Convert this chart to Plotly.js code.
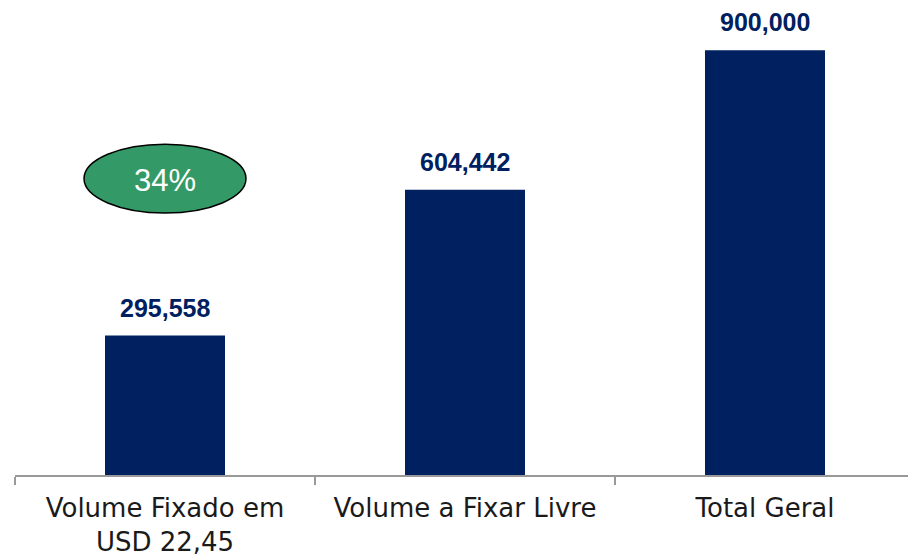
<!DOCTYPE html>
<html>
<head>
<meta charset="utf-8">
<script src="https://cdn.plot.ly/plotly-3.0.1.min.js"></script>
<style>html,body{margin:0;padding:0;background:#fff;}#chart{width:908px;height:556px;}</style>
</head>
<body>
<div id="chart"></div>
<script>
const categories = ["Volume Fixado em<br>USD 22,45", "Volume a Fixar Livre", "Total Geral"];
const values = [295558, 604442, 900000];
const valueLabels = ["295,558", "604,442", "900,000"];
const badgeText = "34%";
const badgeCategory = 0;
const badgeValue = 628000;

const barColor = "#002060";

const trace = {
  type: "bar",
  x: categories,
  y: values,
  marker: { color: barColor },
  hoverinfo: "none"
};

const annotations = values.map((v, i) => ({
  x: categories[i], y: v, xref: "x", yref: "y",
  text: valueLabels[i],
  showarrow: false,
  yanchor: "bottom",
  yshift: 12,
  font: { family: "Liberation Sans, Arial, sans-serif", size: 25, color: barColor, weight: "bold" }
}));
annotations.push({
  x: categories[badgeCategory], y: badgeValue, xref: "x", yref: "y",
  text: badgeText, showarrow: false, yshift: -2,
  font: { family: "Liberation Sans, Arial, sans-serif", size: 31, color: "#ffffff" }
});

const layout = {
  width: 908, height: 556,
  margin: { l: 15, r: 0, t: 3, b: 81 },
  paper_bgcolor: "#ffffff", plot_bgcolor: "#ffffff",
  showlegend: false,
  bargap: 0.6,
  xaxis: {
    type: "category",
    range: [-0.5, 2.4767],
    tickson: "boundaries",
    ticks: "outside", ticklen: 8, tickwidth: 1.5, tickcolor: "#999999",
    ticklabelstandoff: 9,
    showline: true, linecolor: "#999999", linewidth: 1.5,
    showgrid: false, zeroline: false,
    tickfont: { family: "DejaVu Sans, sans-serif", size: 26, color: "#1a1a1a" },
    automargin: false
  },
  yaxis: {
    range: [0, 1000000],
    visible: false, showgrid: false, zeroline: false
  },
  shapes: [{
    type: "circle", xref: "x", yref: "y",
    x0: badgeCategory - 0.27, x1: badgeCategory + 0.27,
    y0: badgeValue - 73000, y1: badgeValue + 73000,
    fillcolor: "#339966",
    line: { color: "#000000", width: 1.5 },
    layer: "above"
  }],
  annotations: annotations
};

Plotly.newPlot("chart", [trace], layout, { staticPlot: true, displayModeBar: false });
</script>
</body>
</html>
